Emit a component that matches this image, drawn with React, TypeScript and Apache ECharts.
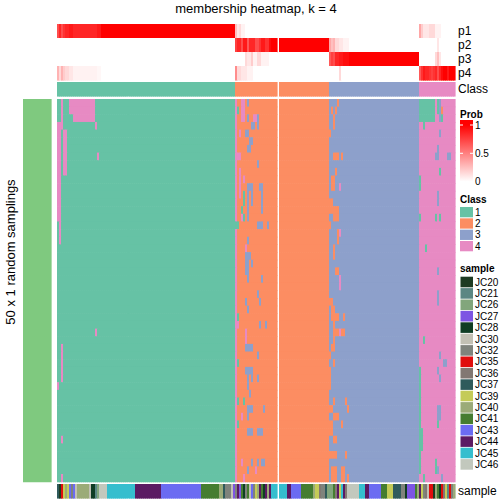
import React, { useEffect, useRef } from "react";
import * as echarts from "echarts";

const TITLE = "membership heatmap, k = 4";
const ROW_TITLE = "50 x 1 random samplings";
const ROW_SLICE_LABEL = "top 303 rows";
const N_ROWS = 50;
const GAP_COL = 110;

const CLASS_LABELS = ["1", "2", "3", "4"];
const CLASS_COLORS = ["#66C2A5", "#FC8D62", "#8DA0CB", "#E78AC3"];
const CLASS_RUNS: [number, number][] = [[1, 89], [2, 47], [3, 45], [4, 18]];

const P_LABELS = ["p1", "p2", "p3", "p4"];
const P1_RUNS: [number, number][] = [
  [0.7, 1], [0.85, 1], [0.7, 1], [0.8, 1], [0.85, 2], [0.9, 2], [0.85, 12], [0.9, 2],
  [1, 67],
  [0.25, 1], [0.1, 1], [0.15, 1], [0.05, 2],
  [0, 87],
  [0.35, 1], [0.2, 1], [0.1, 3], [0.15, 3], [0.05, 3], [0, 7],
];
const P2_RUNS: [number, number][] = [
  [0, 89],
  [0.75, 1], [0.85, 2], [0.7, 1], [0.9, 2], [0.65, 1], [0.85, 3], [0.7, 2], [0.8, 1], [0.9, 2], [0.8, 2], [0.95, 1],
  [1, 29],
  [0.35, 1], [0.25, 1], [0.3, 1], [0.15, 2], [0.1, 2], [0.05, 3],
  [0, 44], [0.1, 1], [0, 8],
];
const P3_RUNS: [number, number][] = [
  [0, 94],
  [0.15, 1], [0.1, 2], [0.2, 1], [0.05, 2], [0.15, 2], [0.05, 4],
  [0, 30],
  [0.65, 1], [0.75, 1], [0.7, 1], [0.85, 2], [0.9, 2], [0.95, 3],
  [1, 35],
  [0, 8], [0.15, 1], [0.25, 1], [0.1, 1], [0, 7],
];
const P4_RUNS: [number, number][] = [
  [0.3, 1], [0.15, 1], [0.3, 1], [0.2, 1], [0.15, 2], [0.1, 2], [0.05, 12], [0.03, 2],
  [0, 67],
  [0.45, 1], [0.15, 2], [0.1, 3], [0.05, 3],
  [0, 43], [0.15, 1], [0, 39],
  [0.65, 1], [0.8, 1], [0.9, 1], [0.85, 2], [0.8, 1], [0.75, 1], [0.8, 1], [0.85, 1], [0.7, 1], [0.85, 1], [0.95, 1], [1, 2], [0.9, 1], [1, 3],
];

const SAMPLE_NAMES = ["JC20", "JC21", "JC26", "JC27", "JC28", "JC30", "JC32", "JC35", "JC36", "JC37", "JC39", "JC40", "JC41", "JC43", "JC44", "JC45", "JC46"];
const SAMPLE_COLORS = ["#1E3B22", "#5B8783", "#82A67C", "#7D55E3", "#0F3D24", "#C2C0B4", "#7F837C", "#E00D0D", "#827873", "#2F5B5C", "#C4CB57", "#9BAB78", "#457D30", "#6B6BF2", "#5B1A63", "#35BECE", "#C2C8BD"];
const SAMPLE_RUNS: [string, number][] = [
  ["JC37", 1], ["JC20", 1], ["JC35", 1], ["JC39", 1], ["JC40", 1], ["JC39", 1], ["JC43", 1], ["JC32", 1], ["JC43", 1], ["JC30", 1],
  ["JC40", 6], ["JC30", 1], ["JC28", 2], ["JC21", 1], ["JC26", 1], ["JC46", 4], ["JC45", 14], ["JC44", 13], ["JC43", 20], ["JC41", 9],
  ["JC40", 2], ["JC37", 1], ["JC32", 3], ["JC30", 1], ["JC27", 1], ["JC32", 1], ["JC44", 1], ["JC27", 1], ["JC41", 1], ["JC28", 1],
  ["JC32", 1], ["JC41", 1], ["JC30", 1], ["JC43", 1], ["JC32", 1], ["JC39", 1], ["JC40", 1], ["JC44", 1], ["JC41", 1], ["JC28", 1],
  ["JC44", 1], ["JC40", 1], ["JC44", 1], ["JC45", 8], ["JC44", 2], ["JC43", 5], ["JC41", 6], ["JC40", 1], ["JC39", 2], ["JC36", 1],
  ["JC32", 2], ["JC37", 1], ["JC26", 3], ["JC41", 1], ["JC36", 1], ["JC44", 1], ["JC39", 1], ["JC45", 1], ["JC44", 1], ["JC36", 1],
  ["JC46", 6], ["JC45", 3], ["JC44", 2], ["JC43", 6], ["JC41", 3], ["JC39", 3], ["JC37", 4], ["JC32", 2], ["JC28", 1], ["JC27", 4],
  ["JC41", 1], ["JC40", 1], ["JC44", 1], ["JC39", 1], ["JC32", 1], ["JC36", 1], ["JC30", 1], ["JC35", 2], ["JC20", 1], ["JC40", 1],
  ["JC41", 1], ["JC28", 1], ["JC35", 1], ["JC36", 1], ["JC39", 1], ["JC21", 1], ["JC35", 1], ["JC32", 1], ["JC40", 1],
];

// [rowStart, rowEnd, colStart, colEnd, class] : cells whose sampled class differs from the consensus class
const MAIN_EXCEPTIONS: [number, number, number, number, number][] = [
  [0, 2, 2, 2, 4], [0, 1, 6, 7, 4], [0, 2, 8, 18, 4], [3, 3, 0, 2, 4], [3, 3, 19, 19, 4], [4, 15, 0, 0, 4], [4, 18, 1, 1, 4],
  [4, 9, 3, 4, 4], [7, 7, 20, 20, 4], [30, 30, 19, 19, 4], [32, 36, 2, 2, 4], [37, 37, 0, 0, 4], [44, 44, 2, 2, 4], [49, 49, 2, 2, 4],
  [0, 49, 89, 89, 4], [16, 16, 89, 89, 1],
  [1, 1, 90, 90, 1], [16, 16, 90, 90, 1], [28, 28, 90, 90, 1], [29, 29, 90, 90, 4], [34, 34, 90, 90, 1], [39, 39, 90, 90, 1], [42, 42, 90, 90, 1],
  [0, 2, 92, 93, 4], [0, 0, 95, 95, 3], [2, 2, 95, 95, 3], [2, 2, 98, 99, 4], [2, 3, 100, 100, 3], [3, 3, 97, 98, 3], [4, 4, 91, 91, 4],
  [4, 4, 94, 95, 3], [5, 5, 96, 97, 3], [6, 6, 95, 96, 3], [7, 7, 90, 91, 4], [8, 8, 100, 100, 3], [9, 12, 91, 91, 4], [10, 10, 93, 93, 4],
  [11, 11, 95, 97, 3], [11, 11, 101, 102, 3], [12, 13, 93, 93, 1], [12, 13, 95, 95, 3], [12, 13, 97, 97, 3], [12, 14, 102, 102, 3],
  [14, 14, 92, 92, 1], [14, 14, 95, 95, 3],
  [15, 15, 92, 92, 4], [15, 15, 93, 93, 1], [15, 15, 95, 95, 3], [16, 16, 100, 102, 3], [16, 16, 105, 105, 3], [18, 18, 95, 95, 3],
  [19, 19, 94, 94, 4], [20, 20, 94, 96, 3], [21, 22, 94, 95, 3], [21, 21, 97, 97, 3], [23, 23, 95, 95, 3], [23, 23, 102, 102, 3],
  [25, 25, 100, 100, 3], [26, 26, 94, 94, 3], [26, 26, 101, 101, 3], [27, 27, 95, 95, 3], [29, 29, 101, 101, 3], [29, 29, 104, 104, 3],
  [30, 31, 94, 94, 4], [32, 32, 94, 97, 3], [33, 33, 100, 100, 3], [35, 35, 94, 97, 3], [36, 37, 95, 95, 3], [36, 36, 97, 97, 3],
  [36, 36, 100, 100, 3], [38, 38, 96, 96, 3], [39, 39, 93, 93, 1], [40, 40, 95, 97, 3], [40, 40, 103, 103, 3], [41, 41, 92, 92, 4],
  [41, 41, 95, 95, 3], [43, 43, 95, 97, 3], [43, 43, 100, 102, 3], [47, 47, 92, 92, 4], [47, 47, 97, 97, 3], [47, 47, 100, 100, 3],
  [47, 47, 102, 103, 3], [48, 48, 95, 95, 3], [48, 48, 99, 99, 4], [49, 49, 93, 93, 4],
  [0, 0, 140, 140, 2], [1, 1, 137, 137, 2], [1, 1, 139, 139, 2], [2, 3, 138, 138, 2], [4, 4, 136, 136, 2], [7, 7, 138, 140, 2],
  [7, 7, 142, 142, 2], [9, 9, 139, 139, 2], [10, 11, 137, 138, 2], [11, 11, 141, 141, 4], [13, 14, 136, 137, 2], [14, 14, 138, 140, 2],
  [15, 15, 138, 140, 2], [16, 16, 136, 136, 2], [17, 18, 140, 140, 2], [17, 17, 141, 141, 4], [19, 20, 138, 138, 2], [22, 22, 139, 140, 2],
  [23, 24, 141, 141, 4], [26, 26, 136, 137, 2], [27, 27, 137, 138, 2], [28, 28, 137, 140, 2], [28, 28, 143, 143, 2], [29, 31, 138, 138, 2],
  [30, 30, 139, 140, 2], [30, 30, 141, 141, 4], [30, 30, 142, 143, 2], [32, 32, 137, 138, 2], [33, 33, 136, 136, 2], [34, 34, 138, 138, 2],
  [35, 37, 136, 136, 2], [39, 39, 138, 138, 2], [39, 39, 144, 144, 2], [40, 40, 136, 137, 2], [40, 40, 145, 145, 2], [41, 41, 138, 140, 2],
  [42, 42, 142, 142, 2], [42, 43, 136, 137, 2], [44, 44, 138, 139, 2], [46, 46, 136, 139, 2], [46, 46, 144, 144, 2], [48, 49, 137, 139, 2],
  [48, 49, 142, 143, 2], [49, 49, 145, 145, 2],
  [0, 2, 181, 188, 1], [0, 1, 190, 190, 1], [0, 2, 191, 191, 3], [1, 1, 192, 192, 2], [2, 2, 192, 192, 1], [3, 3, 183, 183, 1],
  [4, 4, 191, 191, 3], [6, 6, 190, 190, 3], [7, 7, 189, 190, 3], [7, 7, 195, 196, 3], [9, 9, 191, 191, 1], [10, 11, 181, 181, 1],
  [12, 13, 190, 190, 3], [15, 15, 181, 181, 1], [15, 15, 189, 189, 1], [15, 15, 191, 191, 1], [19, 19, 184, 184, 1], [22, 22, 190, 190, 3],
  [25, 26, 190, 190, 3], [31, 31, 183, 183, 1], [33, 33, 191, 191, 3], [34, 34, 193, 194, 3], [35, 35, 190, 190, 3], [36, 36, 191, 191, 3],
  [35, 42, 181, 181, 1], [40, 41, 190, 191, 3], [42, 42, 190, 190, 1], [43, 45, 181, 182, 1], [46, 48, 181, 181, 1], [47, 48, 189, 189, 1],
  [48, 48, 190, 190, 3], [49, 49, 183, 183, 1], [49, 49, 192, 192, 3],
];

const PROB_TICKS = [1, 0.5, 0];

const FONT = '"Liberation Sans", Arial, Helvetica, sans-serif';

function expand<T>(runs: [T, number][]): T[] {
  const out: T[] = [];
  runs.forEach(([v, n]) => {
    for (let i = 0; i < n; i++) out.push(v);
  });
  return out;
}

function probColor(v: number): string {
  const t = Math.max(0, Math.min(1, v));
  const g = Math.round(255 * (1 - t));
  return `rgb(255,${g},${g})`;
}

function cellSeries(xAxisIndex: number, yAxisIndex: number, data: number[][], colorOf: (v: number) => string) {
  return {
    type: "custom",
    xAxisIndex,
    yAxisIndex,
    data,
    silent: true,
    progressive: 0,
    animation: false,
    encode: { x: 0, y: 1 },
    renderItem: (_params: any, api: any) => {
      const c = api.coord([api.value(0), api.value(1)]);
      const s = api.size([1, 1]);
      return {
        type: "rect",
        shape: { x: c[0] - s[0] / 2, y: c[1] - s[1] / 2, width: s[0] + 0.6, height: s[1] + 0.6 },
        style: { fill: colorOf(api.value(2)) },
      };
    },
  };
}

function buildOption() {
  const classCols = expand(CLASS_RUNS);
  const nCols = classCols.length;
  const xCats = classCols.map((_, i) => String(i));
  const rowCats = Array.from({ length: N_ROWS }, (_, i) => String(i + 1));
  const pCols = [P1_RUNS, P2_RUNS, P3_RUNS, P4_RUNS].map((r) => expand(r));
  const sampleCols = expand(SAMPLE_RUNS);

  const pData: number[][] = [];
  pCols.forEach((vals, r) => {
    vals.forEach((v, c) => {
      if (c !== GAP_COL && c < nCols) pData.push([c, r, v]);
    });
  });
  const classData: number[][] = [];
  classCols.forEach((k, c) => {
    if (c !== GAP_COL) classData.push([c, 0, k]);
  });
  const sampleData: number[][] = [];
  sampleCols.forEach((name, c) => {
    if (c !== GAP_COL && c < nCols) sampleData.push([c, 0, SAMPLE_NAMES.indexOf(name)]);
  });
  const main: number[][] = [];
  for (let r = 0; r < N_ROWS; r++) main.push(classCols.slice());
  MAIN_EXCEPTIONS.forEach(([r0, r1, c0, c1, k]) => {
    for (let r = r0; r <= r1; r++) for (let c = c0; c <= c1; c++) if (c < nCols) main[r][c] = k;
  });
  const mainData: number[][] = [];
  for (let r = 0; r < N_ROWS; r++)
    for (let c = 0; c < nCols; c++) if (c !== GAP_COL) mainData.push([c, r, main[r][c]]);
  const sliceData = [[0, 0, 0]];

  const W = 398;
  const grid = [
    { left: 57, top: 24, width: W, height: 56 },
    { left: 57, top: 82, width: W, height: 14 },
    { left: 57, top: 99, width: W, height: 382.7 },
    { left: 57, top: 484, width: W, height: 14 },
    { left: 23, top: 99, width: 28, height: 382.7 },
  ];
  const hiddenX = (gi: number, data: string[]) => ({
    type: "category", gridIndex: gi, data, show: false, boundaryGap: true,
  });
  const labelY = (gi: number, data: string[], show: boolean) => ({
    type: "category", gridIndex: gi, data, inverse: true, position: "right",
    show,
    axisLine: { show: false }, axisTick: { show: false }, splitLine: { show: false },
    axisLabel: { show, interval: 0, margin: 3, fontSize: 12, color: "#000", fontFamily: FONT },
  });

  const catColor = (v: number) => CLASS_COLORS[v - 1];

  const g: any[] = [];
  const txt = (x: number, y: number, text: string, font: string, align = "left", rotation = 0) => ({
    type: "text", x, y, rotation, silent: true,
    style: { text, font, fill: "#000", textAlign: align, textVerticalAlign: "middle", verticalAlign: "middle" },
  });
  g.push(txt(256, 8.5, TITLE, `13px ${FONT}`, "center"));
  g.push(txt(10, 252, ROW_TITLE, `13px ${FONT}`, "center", Math.PI / 2));
  g.push(txt(38, 290, ROW_SLICE_LABEL, `11px ${FONT}`, "center", Math.PI / 2));

  // Prob legend
  const barTop = 120, barH = 67, y1 = 125, y0 = 181.6;
  g.push(txt(460, 114.5, "Prob", `bold 10px ${FONT}`));
  g.push({
    type: "rect", silent: true,
    shape: { x: 460, y: barTop, width: 13, height: barH },
    style: {
      fill: {
        type: "linear", x: 0, y: 0, x2: 0, y2: 1,
        colorStops: [
          { offset: 0, color: probColor(1) },
          { offset: (y1 - barTop) / barH, color: probColor(1) },
          { offset: ((y1 + y0) / 2 - barTop) / barH, color: probColor(0.5) },
          { offset: (y0 - barTop) / barH, color: probColor(0) },
          { offset: 1, color: probColor(0) },
        ],
      },
    },
  });
  PROB_TICKS.forEach((v) => {
    const y = y0 - (y0 - y1) * v;
    g.push({ type: "line", silent: true, shape: { x1: 460, y1: y, x2: 463, y2: y }, style: { stroke: "#fff", lineWidth: 1 } });
    g.push({ type: "line", silent: true, shape: { x1: 470, y1: y, x2: 473, y2: y }, style: { stroke: "#fff", lineWidth: 1 } });
    g.push(txt(475, y, String(v), `10px ${FONT}`));
  });

  // Class legend
  g.push(txt(460, 199, "Class", `bold 10px ${FONT}`));
  CLASS_LABELS.forEach((lab, i) => {
    const y = 207 + i * 11.33;
    g.push({ type: "rect", silent: true, shape: { x: 460, y, width: 13, height: 10.3 }, style: { fill: CLASS_COLORS[i] } });
    g.push(txt(475, y + 5.2, lab, `10px ${FONT}`));
  });

  // sample legend
  g.push(txt(460, 268, "sample", `bold 10px ${FONT}`));
  SAMPLE_NAMES.forEach((lab, i) => {
    const y = 276.7 + i * 11.4;
    g.push({ type: "rect", silent: true, shape: { x: 460.5, y, width: 12.5, height: 10.6 }, style: { fill: SAMPLE_COLORS[i] } });
    g.push(txt(475, y + 5.4, lab, `10px ${FONT}`));
  });

  return {
    animation: false,
    backgroundColor: "#fff",
    grid,
    xAxis: [hiddenX(0, xCats), hiddenX(1, xCats), hiddenX(2, xCats), hiddenX(3, xCats), hiddenX(4, ["slice"])],
    yAxis: [
      labelY(0, P_LABELS, true),
      labelY(1, ["Class"], true),
      labelY(2, rowCats, false),
      labelY(3, ["sample"], true),
      labelY(4, ["top"], false),
    ],
    series: [
      cellSeries(0, 0, pData, probColor),
      cellSeries(1, 1, classData, catColor),
      cellSeries(2, 2, mainData, catColor),
      cellSeries(3, 3, sampleData, (v) => SAMPLE_COLORS[v]),
      cellSeries(4, 4, sliceData, () => "#7FC97F"),
    ],
    graphic: g,
  };
}

export default function App() {
  const ref = useRef<HTMLDivElement>(null);
  useEffect(() => {
    if (!ref.current) return;
    const chart = echarts.init(ref.current, undefined, { renderer: "svg" });
    chart.setOption(buildOption() as any);
    return () => chart.dispose();
  }, []);
  return <div ref={ref} style={{ position: "fixed", left: 0, top: 0, width: 504, height: 504, background: "#fff" }} />;
}
